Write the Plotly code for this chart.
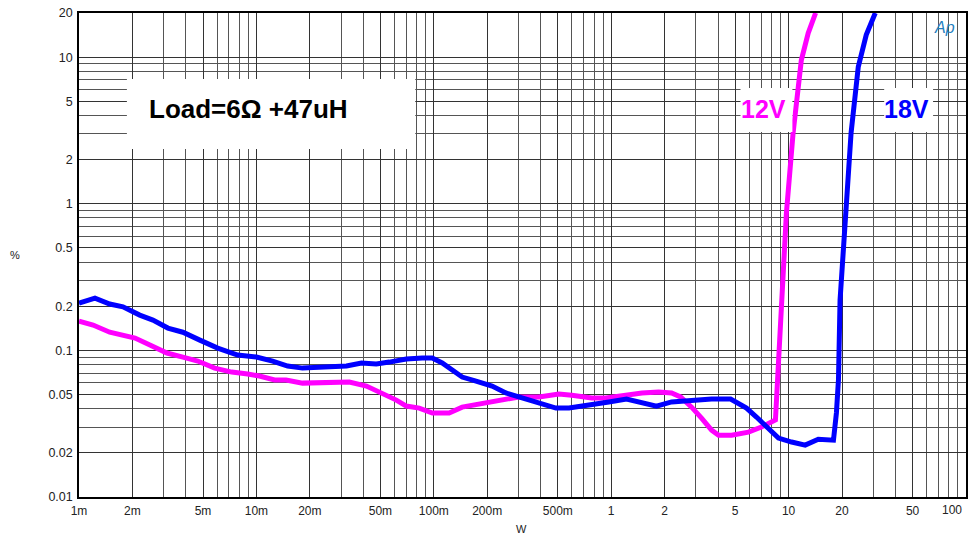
import plotly.graph_objects as go

# ---- data (W, %) ----
blue_x = [0.001, 0.00123, 0.00149, 0.00177, 0.0022, 0.00261, 0.00317, 0.00385, 0.0048, 0.00605,
          0.00784, 0.01, 0.01234, 0.015, 0.0182, 0.0236, 0.0322, 0.0391, 0.0474, 0.0561,
          0.070, 0.0861, 0.098, 0.1115, 0.127, 0.1445, 0.173, 0.213, 0.255, 0.302,
          0.392, 0.488, 0.578, 0.72, 0.97, 1.22, 1.49, 1.80, 2.19, 2.84,
          3.68, 4.71, 5.22, 5.79, 6.59, 7.69, 8.77, 10.4, 12.4, 14.7,
          17.9, 18.6, 19.1, 19.5, 20.9, 22.5, 24.7, 27.4, 30.8]
blue_y = [0.210, 0.227, 0.207, 0.198, 0.174, 0.161, 0.142, 0.133, 0.1175, 0.1037,
          0.0929, 0.090, 0.0846, 0.0782, 0.0757, 0.0769, 0.0782, 0.082, 0.0807, 0.0832,
          0.0873, 0.0887, 0.0887, 0.082, 0.0734, 0.0658, 0.0618, 0.0571, 0.0512, 0.0481,
          0.0445, 0.0404, 0.0404, 0.0424, 0.0445, 0.0466, 0.0438, 0.0417, 0.0445, 0.0458,
          0.0466, 0.0466, 0.0438, 0.0404, 0.0351, 0.0295, 0.0252, 0.0237, 0.0226, 0.0248,
          0.0244, 0.0374, 0.0628, 0.220, 0.865, 3.04, 8.57, 14.2, 20.0]

mag_x = [0.001, 0.0012, 0.00149, 0.00207, 0.00251, 0.00313, 0.00385, 0.00467, 0.00582, 0.00726,
         0.00893, 0.0104, 0.01266, 0.0147, 0.0182, 0.0258, 0.0334, 0.0417, 0.0513, 0.0615,
         0.070, 0.0828, 0.0982, 0.122, 0.1445, 0.187, 0.233, 0.302, 0.392, 0.507,
         0.60, 0.778, 0.933, 1.21, 1.49, 1.85, 2.19, 2.46, 2.84, 3.23,
         3.68, 4.03, 4.77, 5.94, 7.03, 8.43, 8.54, 8.65, 9.12, 9.72,
         10.6, 11.8, 12.9, 14.2]
mag_y = [0.1585, 0.149, 0.133, 0.1214, 0.1087, 0.0959, 0.090, 0.0846, 0.0757, 0.0711,
         0.069, 0.0668, 0.0628, 0.0628, 0.0598, 0.0608, 0.0608, 0.0571, 0.0512, 0.0458,
         0.0417, 0.0404, 0.0374, 0.0374, 0.041, 0.0431, 0.0451, 0.0481, 0.0481, 0.0504,
         0.0495, 0.0473, 0.0473, 0.0495, 0.0512, 0.052, 0.0512, 0.0481, 0.041, 0.0345,
         0.0286, 0.0264, 0.0264, 0.0277, 0.030, 0.0335, 0.0438, 0.0734, 0.220, 0.865,
         3.04, 9.55, 14.6, 20.0]

x_tickvals = [0.001, 0.002, 0.005, 0.01, 0.02, 0.05, 0.1, 0.2, 0.5, 1, 2, 5, 10, 20, 50]
x_ticktext = ["1m", "2m", "5m", "10m", "20m", "50m", "100m", "200m", "500m",
              "1", "2", "5", "10", "20", "50"]
y_tickvals = [0.01, 0.02, 0.05, 0.1, 0.2, 0.5, 1, 2, 5, 10, 20]
y_ticktext = ["0.01", "0.02", "0.05", "0.1", "0.2", "0.5", "1", "2", "5", "10", "20"]

x_minor = [k * 10.0 ** d for d in range(-3, 2) for k in range(1, 10)] + [100]
y_minor = [k * 10.0 ** d for d in range(-2, 2) for k in range(1, 10)]

FONT = "Arial, Liberation Sans"

fig = go.Figure()
fig.add_trace(go.Scatter(x=mag_x, y=mag_y, mode="lines",
                         line=dict(color="#ff00ff", width=5), showlegend=False))
fig.add_trace(go.Scatter(x=blue_x, y=blue_y, mode="lines",
                         line=dict(color="#0000ff", width=5), showlegend=False))

W, H = 968, 537
L, R, T, B = 79, 0, 13, 40
pw, ph = W - L - R, H - T - B

def px(xp):
    return (xp - L) / pw

def py(yp):
    return (H - B - yp) / ph

# white label boxes
for (x0, x1, y0, y1) in [(127, 416, 79, 149), (742, 794, 88, 132), (886, 935, 88, 132)]:
    fig.add_shape(type="rect", xref="paper", yref="paper",
                  x0=px(x0), x1=px(x1), y0=py(y1), y1=py(y0),
                  fillcolor="white", line=dict(width=0), layer="above")

fig.add_annotation(text="<b>Load=6Ω +47uH</b>", xref="paper", yref="paper",
                   x=px(147), y=py(109), xanchor="left", yanchor="middle",
                   showarrow=False, font=dict(family=FONT, size=26, color="black"))
fig.add_annotation(text="<b>12V</b>", xref="paper", yref="paper",
                   x=px(765), y=py(109), xanchor="center", yanchor="middle",
                   showarrow=False, font=dict(family=FONT, size=25, color="#ff00ff"))
fig.add_annotation(text="<b>18V</b>", xref="paper", yref="paper",
                   x=px(908), y=py(109), xanchor="center", yanchor="middle",
                   showarrow=False, font=dict(family=FONT, size=25, color="#0000ff"))
fig.add_annotation(text="<i>Ap</i>", xref="paper", yref="paper",
                   x=px(946), y=py(28), xanchor="center", yanchor="middle",
                   showarrow=False, font=dict(family=FONT, size=16, color="#1f80c0"))
# axis titles and last x label
fig.add_annotation(text="%", xref="paper", yref="paper", x=px(15), y=py(255),
                   xanchor="center", yanchor="middle", showarrow=False,
                   font=dict(family=FONT, size=11, color="#222"))
fig.add_annotation(text="W", xref="paper", yref="paper", x=px(522), y=py(529),
                   xanchor="center", yanchor="middle", showarrow=False,
                   font=dict(family=FONT, size=11, color="#222"))
fig.add_annotation(text="100", xref="paper", yref="paper", x=px(966), y=py(510),
                   xanchor="right", yanchor="middle", showarrow=False,
                   font=dict(family=FONT, size=12, color="#222"))

fig.update_layout(
    width=W, height=H,
    margin=dict(l=L, r=R, t=T, b=B),
    paper_bgcolor="white", plot_bgcolor="white",
    font=dict(family=FONT, size=12, color="#222"),
)
fig.update_xaxes(type="log", range=[-3, 2], tickvals=x_tickvals, ticktext=x_ticktext,
                 showgrid=True, gridcolor="#333", gridwidth=1,
                 minor=dict(tickvals=x_minor, showgrid=True, gridcolor="#555", gridwidth=1),
                 showline=True, linecolor="black", linewidth=1.5, mirror=True,
                 ticks="", zeroline=False, ticklabelstandoff=2,
                 tickfont=dict(size=12))
fig.update_yaxes(type="log", range=[-2, 1.30103], tickvals=y_tickvals, ticktext=y_ticktext,
                 showgrid=True, gridcolor="#333", gridwidth=1,
                 minor=dict(tickvals=y_minor, showgrid=True, gridcolor="#555", gridwidth=1),
                 showline=True, linecolor="black", linewidth=1.5, mirror=True,
                 ticks="", zeroline=False, ticklabelstandoff=2,
                 tickfont=dict(size=12.5))

fig.write_html("out.html", config={"displayModeBar": False},
               post_script="document.body.style.margin='0';")
